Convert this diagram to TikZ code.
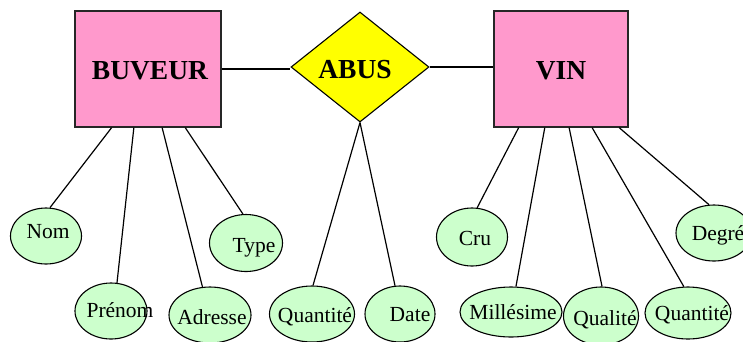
\documentclass[tikz,border=0pt]{standalone}
\usepackage{fontspec}
\setmainfont{Liberation Serif}
\usetikzlibrary{shapes.geometric,calc}
\definecolor{entpink}{HTML}{FF99CC}
\definecolor{relyellow}{HTML}{FFFF00}
\definecolor{attrgreen}{HTML}{CCFFCC}
\begin{document}
\begin{tikzpicture}[x=1pt,y=-1pt,
  entity/.style={draw=black!85, line width=1.3pt, fill=entpink, inner sep=0pt},
  etxt/.style={font=\fontsize{27.5}{30}\selectfont\bfseries, inner sep=0pt},
  relation/.style={diamond, draw, line width=1.1pt, fill=relyellow, inner sep=0pt,
    minimum width=138pt, minimum height=110pt},
  attr/.style={ellipse, draw, line width=1.1pt, fill=attrgreen, inner sep=0pt},
  atxt/.style={font=\fontsize{21.5}{24}\selectfont, inner sep=0pt},
  link/.style={line width=1.2pt}]
\useasboundingbox (0,0) rectangle (743,341);

% entities and relation
\node[entity, minimum width=146pt, minimum height=116pt, label={[etxt, shift={(2,2)}]center:BUVEUR}] (buveur) at (148,69) {};
\node[entity, minimum width=134pt, minimum height=116pt, label={[etxt, shift={(0,2)}]center:VIN}] (vin) at (561,69) {};
\node[relation, label={[etxt, shift={(-5,3)}]center:ABUS}] (abus) at (360,67) {};

% attributes
\node[attr, minimum width=71pt, minimum height=56pt, label={[atxt, shift={(2,-4)}]center:Nom}] (nom) at (46,236) {};
\node[attr, minimum width=72pt, minimum height=56pt, label={[atxt, shift={(9,-1)}]center:Prénom}] (prenom) at (111,311) {};
\node[attr, minimum width=82pt, minimum height=56pt, label={[atxt, shift={(2,2)}]center:Adresse}] (adresse) at (210,315) {};
\node[attr, minimum width=73pt, minimum height=57pt, label={[atxt, shift={(8,5)}]center:Type}] (type) at (246,243) {};
\node[attr, minimum width=85pt, minimum height=56pt, label={[atxt, shift={(3,3)}]center:Quantité}] (quantl) at (312,314) {};
\node[attr, minimum width=70pt, minimum height=56pt, label={[atxt, shift={(10,1)}]center:Date}] (date) at (400,314) {};
\node[attr, minimum width=71pt, minimum height=58pt, label={[atxt, shift={(3,1)}]center:Cru}] (cru) at (472,237) {};
\node[attr, minimum width=102pt, minimum height=50pt, label={[atxt, shift={(2,0)}]center:Millésime}] (mill) at (511,312) {};
\node[attr, minimum width=75pt, minimum height=58pt, label={[atxt, shift={(4,4)}]center:Qualité}] (qual) at (601,316) {};
\node[attr, minimum width=86pt, minimum height=52pt, label={[atxt, shift={(4,2)}]center:Quantité}] (quantr) at (688,313) {};
\node[attr, minimum width=76pt, minimum height=56pt, label={[atxt, shift={(4,2)}]center:Degré}] (degre) at (714,233) {};

% connectors
\draw[link] (buveur.east) -- (buveur.east -| abus.west);
\draw[link] (abus.east) -- (abus.east -| vin.west);

\draw[link] ($(buveur.south west)!0.253!(buveur.south east)$) -- (nom.82);
\draw[link] ($(buveur.south west)!0.404!(buveur.south east)$) -- (prenom.78);
\draw[link] ($(buveur.south west)!0.596!(buveur.south east)$) -- (adresse.105);
\draw[link] ($(buveur.south west)!0.753!(buveur.south east)$) -- (type.96);

\draw[link] (abus.south) -- (quantl.88);
\draw[link] (abus.south) -- (date.100);

\draw[link] ($(vin.south west)!0.187!(vin.south east)$) -- (cru.80);
\draw[link] ($(vin.south west)!0.38!(vin.south east)$) -- (mill.79);
\draw[link] ($(vin.south west)!0.56!(vin.south east)$) -- (qual.88);
\draw[link] ($(vin.south west)!0.73!(vin.south east)$) -- (quantr.99);
\draw[link] ($(vin.south west)!0.93!(vin.south east)$) -- (degre.100);
\end{tikzpicture}
\end{document}
